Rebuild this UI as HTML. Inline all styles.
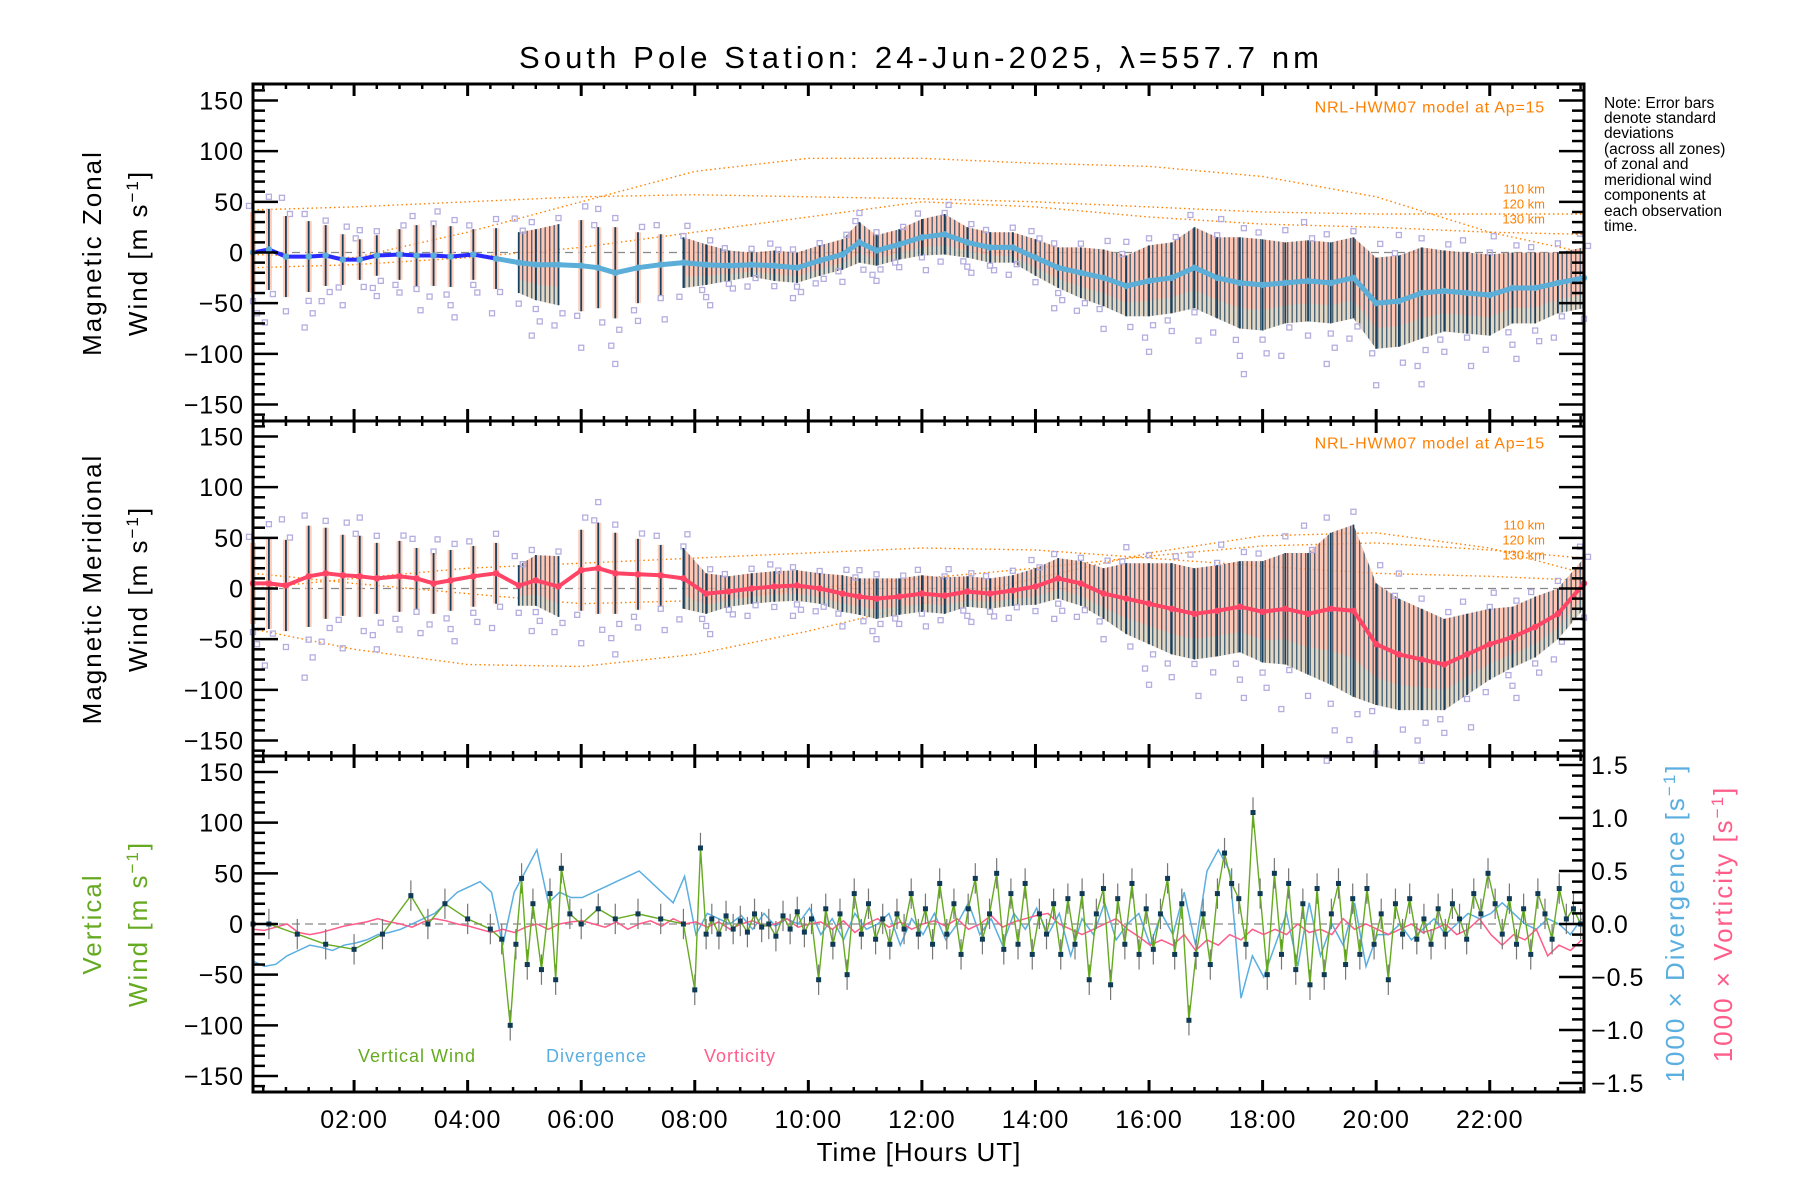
<!DOCTYPE html>
<html><head><meta charset="utf-8"><style>
html,body{margin:0;padding:0;background:#fff;}
svg{display:block;font-family:"Liberation Sans",sans-serif;}
</style></head><body>
<svg id="chart" width="1800" height="1200" viewBox="0 0 1800 1200" xmlns="http://www.w3.org/2000/svg">
<defs>
<pattern id="hatch" width="4.5" height="10" patternUnits="userSpaceOnUse"><rect x="0" y="0" width="1.4" height="10" fill="#17405f"/></pattern>
</defs>
<text x="919" y="68" font-size="31" text-anchor="middle" textLength="800" lengthAdjust="spacing">South Pole Station: 24-Jun-2025, λ=557.7 nm</text>
<g id="note" font-size="15.5">
<text x="1604" y="108">Note: Error bars</text><text x="1604" y="123">denote standard</text><text x="1604" y="138">deviations</text><text x="1604" y="154">(across all zones)</text><text x="1604" y="169">of zonal and</text><text x="1604" y="185">meridional wind</text><text x="1604" y="200">components at</text><text x="1604" y="216">each observation</text><text x="1604" y="231">time.</text>
</g>
<g id="layer"></g>
</svg>
<script>
// ---- data ----
const times = [0.22,0.5,0.8,1.2,1.5,1.8,2.1,2.4,2.8,3.1,3.4,3.7,4.1,4.5,4.9,5.2,5.6,6.0,6.3,6.6,7.0,7.4,7.8,8.2,8.6,9.0,9.4,9.8,10.2,10.6,10.9,11.2,11.6,12.0,12.4,12.8,13.2,13.6,14.0,14.4,14.8,15.2,15.6,16.0,16.4,16.8,17.2,17.6,18.0,18.4,18.8,19.2,19.6,20.0,20.4,20.8,21.2,21.6,22.0,22.4,22.8,23.2,23.66];
const zonalWind = [0,3,-4,-4,-3,-7,-7,-3,-2,-3,-3,-4,-2,-6,-10,-12,-12,-13,-15,-20,-15,-12,-10,-12,-13,-12,-13,-15,-8,-2,10,2,8,15,18,10,5,5,-5,-15,-20,-25,-33,-28,-25,-15,-25,-30,-32,-30,-28,-30,-25,-50,-48,-40,-38,-40,-42,-35,-35,-30,-25];
const zonalStd = [40,40,40,35,30,25,20,20,25,30,30,30,25,30,30,35,40,45,40,45,35,30,25,20,15,12,15,15,15,15,20,15,15,18,20,15,15,15,18,20,25,28,30,35,35,40,40,45,45,40,40,40,40,45,45,45,40,40,40,35,35,30,30];
const meridWind = [5,5,3,12,15,13,12,10,12,10,5,8,12,15,3,8,2,18,20,15,14,13,10,-5,-3,0,2,3,0,-5,-8,-10,-8,-5,-7,-3,-5,-2,2,10,5,-5,-10,-15,-20,-25,-22,-18,-23,-20,-25,-20,-22,-55,-65,-70,-75,-65,-55,-48,-38,-25,5];
const meridStd = [40,45,45,50,45,40,40,35,35,30,30,30,30,30,20,25,30,40,45,40,35,30,30,20,15,15,15,15,15,18,18,20,18,18,18,15,15,15,18,20,22,25,35,40,45,45,45,45,50,55,60,75,85,60,55,50,45,40,35,30,30,25,25];
const modelTimes = [0.22,2,4,6,8,10,12,14,16,18,20,22,23.66];
const zonal110 = [42,45,50,55,57,55,53,50,45,40,38,38,38];
const zonal120 = [-2,-5,20,50,80,93,93,88,85,75,55,20,0];
const zonal130 = [-15,-12,-5,5,20,35,50,45,35,28,25,20,18];
const merid110 = [-40,-60,-75,-77,-65,-42,-15,10,35,52,55,40,15];
const merid120 = [15,5,-5,-15,-12,0,10,20,32,42,45,38,30];
const merid130 = [0,10,20,25,30,35,40,38,30,22,15,12,8];
const vertTimesEarly = [0.22,0.5,1.0,1.5,2.0,2.5,3.0,3.3,3.6,4.0,4.4,4.6,4.75,4.85,4.95,5.05,5.15,5.3,5.45,5.55,5.65,5.8,6.0,6.3,6.6,7.0,7.4,7.8,8.0,8.1,8.2];
const vertWindEarly = [0,0,-10,-20,-25,-10,28,0,20,5,-5,-15,-100,-20,45,-40,20,-45,30,-55,55,10,0,15,5,10,5,0,-65,75,-10];
const vertDenseStart = 8.3, vertDenseEnd = 23.6;
const vertWindDense = [5,-10,8,-5,3,-8,10,-3, 0,-12,8,-5,12,-8,5,-55, 15,-20,10,-50,30,-10,20,-15, 5,-20,10,-5,30,-10,15,-20, 40,-10,20,-30,15,45,-15,10, 50,-25,30,-20,40,-30,10,-10, 20,-30,25,-20,30,-55,10,35, -60,25,-20,40,-30,15,-25,10, 45,-30,20,-95,-30,10,-40,30, 70,40,25,-20,110,30,-50,50, -30,40,-45,20,-60,35,-50,10, 40,-40,25,-30,35,-20,10,-55, 20,-10,25,-15,5,-20,15,-10, 20,5,-15,30,10,50,20,-10, 25,-20,15,-30,30,10,-15,35, 5,15,0];
const vertErr = 15;
const gridStart = 0.22, gridStep = 0.2;
const divergence = [-0.35,-0.4,-0.38,-0.3,-0.25,-0.2,-0.22,-0.25,-0.2,-0.18, -0.15,-0.1,-0.08,-0.05,0.0,0.05,0.1,0.2,0.3,0.35, 0.4,0.3,-0.2,0.3,0.5,0.7,0.2,0.3,0.25,0.25, 0.3,0.35,0.4,0.45,0.5,0.4,0.3,0.2,0.45,-0.1, 0.1,0.05,0.0,0.08,-0.05,0.1,-0.02,0.05,0.0,0.15, -0.1,0.05,-0.15,0.1,-0.05,0.0,0.1,-0.2,0.05,-0.1, 0.1,-0.15,0.0,0.2,-0.1,0.05,-0.2,0.1,-0.05,0.15, -0.1,0.1,-0.3,0.05,-0.1,0.2,-0.15,0.0,0.1,-0.2, 0.1,-0.1,0.3,-0.2,0.5,0.7,0.5,-0.7,-0.3,-0.5, -0.2,0.1,-0.4,0.2,-0.3,0.0,-0.2,0.2,-0.4,-0.1, -0.1,0.0,-0.15,-0.05,0.05,-0.1,0.0,0.1,0.05,0.1, 0.2,0.1,0.0,-0.05,0.05,0.0,-0.1,0.05];
const vorticity = [-0.05,-0.06,-0.03,0.0,-0.08,-0.1,-0.08,-0.05,-0.02,0.0, 0.02,0.05,0.02,0.0,-0.03,0.02,0.05,0.03,0.0,-0.02, -0.05,-0.08,-0.05,-0.08,-0.03,0.0,-0.05,0.0,0.02,0.03, 0.0,-0.03,0.02,-0.05,0.0,0.03,-0.02,0.05,0.0,0.02, -0.03,0.02,-0.05,0.0,0.03,-0.02,0.0,0.05,-0.03,0.0, 0.02,-0.05,0.03,-0.08,0.0,0.05,-0.03,0.02,-0.05,0.0, 0.03,-0.02,0.05,-0.05,0.0,0.08,-0.03,0.02,0.05,0.08, 0.1,0.0,-0.05,-0.1,-0.05,0.0,0.05,-0.05,-0.12,-0.2, -0.15,-0.2,-0.1,-0.25,-0.15,-0.2,-0.1,-0.15,-0.05,-0.1, -0.05,-0.1,0.0,-0.08,-0.05,-0.1,0.05,-0.05,0.0,-0.05, -0.1,-0.05,0.0,-0.08,-0.05,0.0,-0.1,-0.05,0.05,-0.1, -0.2,-0.1,-0.15,-0.05,-0.3,-0.2,-0.25,-0.15];
const yTickLabels = ['150','100','50','0','\u221250','\u2212100','\u2212150'];
const yTickValues = [150,100,50,0,-50,-100,-150];
const rTickLabels = ['1.5','1.0','0.5','0.0','\u22120.5','\u22121.0','\u22121.5'];
const rTickValues = [1.5,1.0,0.5,0.0,-0.5,-1.0,-1.5];
const xTickLabels = ['02:00','04:00','06:00','08:00','10:00','12:00','14:00','16:00','18:00','20:00','22:00'];
const xTickValues = [2,4,6,8,10,12,14,16,18,20,22];

// ---- layout ----
const NS='http://www.w3.org/2000/svg';
const L=253, R=1584, XMIN=0.22, XMAX=23.66;
const panels=[{top:84,bot:421},{top:421,bot:756},{top:756,bot:1092}];
const X=h=>L+(h-XMIN)/(XMAX-XMIN)*(R-L);
function Y(p,v){const c=(panels[p].top+panels[p].bot)/2;return c-v*1.0133;}
function YR(v){return 924-v*106;}
const layer=document.getElementById('layer');
function mk(tag,attrs,parent){const e=document.createElementNS(NS,tag);for(const k in attrs)e.setAttribute(k,attrs[k]);(parent||layer).appendChild(e);return e;}
function grp(name){const g=mk('g',{});


return g;}
function poly(pts,attrs,parent){return mk('polyline',Object.assign({points:pts.map(p=>p[0].toFixed(1)+','+p[1].toFixed(1)).join(' '),fill:'none'},attrs),parent);}

const dense=h=>(h>=4.7&&h<=5.85)||h>=7.8;
const scatterK=[[1.15,-1.2,-1.5],[1.3,-1.1,-1.8],[1.05,1.45,-1.35],[1.2,-1.25,-1.6,-2.0]];

function windPanel(p,T,M,S,name,lineColor,line2Color,models,modelLabels){
  const g=grp(name+'-panel');
  const z=mk('line',{x1:L,x2:R,y1:Y(p,0),y2:Y(p,0),stroke:'#888','stroke-dasharray':'8 5','stroke-width':1.3},g);
  
  
  models.forEach((arr,i)=>{
    const c=poly(modelTimes.map((t,j)=>[X(t),Y(p,arr[j])]),{stroke:'#ff8000','stroke-width':1.4,'stroke-dasharray':'1.5 3'},g);
    
    
  });
  const segs=[];let cur=[];
  T.forEach((t,i)=>{if(dense(t))cur.push(i);else{if(cur.length)segs.push(cur);cur=[];}});
  if(cur.length)segs.push(cur);
  segs.forEach(s=>{
    const top=s.map(i=>[X(T[i]),Y(p,M[i]+S[i])]);
    const bot=s.map(i=>[X(T[i]),Y(p,M[i]-S[i])]).reverse();
    const pts=top.concat(bot).map(q=>q[0].toFixed(1)+','+q[1].toFixed(1)).join(' ');
    const b1=mk('polygon',{points:pts,fill:'#ffb8a0','fill-opacity':0.8},g);
    
    
    const lowBand=s.map(i=>[X(T[i]),Y(p,M[i]-S[i]*0.55)]).concat(bot).map(q=>q[0].toFixed(1)+','+q[1].toFixed(1)).join(' ');
    const b3=mk('polygon',{points:lowBand,fill:'#c8e8d8','fill-opacity':0.5},g);
    
    
    const b2=mk('polygon',{points:pts,fill:'url(#hatch)','fill-opacity':0.75},g);
    
    
  });
  T.forEach((t,i)=>{
    const x=X(t);
    scatterK[i%4].forEach((k,j)=>{
      const sq=mk('rect',{x:x-2.5+((i+j)%3-1)*4,y:Y(p,M[i]+S[i]*k)-2.5,width:5,height:5,fill:'none',stroke:'#b4aee0','stroke-width':1.3},g);
      
      
    });
    if(!dense(t)){
      const bg=mk('rect',{x:x-3,y:Y(p,M[i]+S[i]),width:6,height:2*S[i]*1.0133,fill:'#ffc0a8','fill-opacity':0.8},g);
      
      
    }
    const eb=mk('line',{x1:x,x2:x,y1:Y(p,M[i]+S[i]),y2:Y(p,M[i]-S[i]),stroke:'#17405f','stroke-width':1.8},g);
    
    
  });
  const l1=poly(T.map((t,i)=>[X(t),Y(p,M[i])]),{stroke:lineColor,'stroke-width':4,'stroke-linejoin':'round'},g);
  
  
  if(line2Color){
    const idx=T.map((t,i)=>i).filter(i=>T[i]>=4.5);
    const l2=poly(idx.map(i=>[X(T[i]),Y(p,M[i])]),{stroke:line2Color,'stroke-width':5,'stroke-linejoin':'round'},g);
    
    
  }
  T.forEach((t,i)=>{const d=mk('circle',{cx:X(t),cy:Y(p,M[i]),r:3.2,fill:line2Color||lineColor},g);
    
    });
  const mt=mk('text',{x:1545,y:Y(p,0)-140,'font-size':16,fill:'#ff8000','text-anchor':'end','letter-spacing':'0.8'},g);
  mt.textContent='NRL-HWM07 model at Ap=15';
  
  
  modelLabels.forEach((lb,i)=>{const t=mk('text',{x:1545,y:Y(p,0)-59+i*15,'font-size':13,fill:'#ff8000','text-anchor':'end'},g);t.textContent=lb;
    
    });
}
windPanel(0,times,zonalWind,zonalStd,'zonal','#2a2aff','#5aaed8',[zonal110,zonal120,zonal130],['110 km','120 km','130 km']);
windPanel(1,times,meridWind,meridStd,'meridional','#ff4466',null,[merid110,merid120,merid130],['110 km','120 km','130 km']);

// ---- panel 3 ----
(function(){
  const g=grp('vertical-panel');
  const z=mk('line',{x1:L,x2:R,y1:Y(2,0),y2:Y(2,0),stroke:'#888','stroke-dasharray':'8 5','stroke-width':1.3},g);
  
  
  const gx=divergence.map((v,i)=>gridStart+i*gridStep);
  const dv=poly(gx.map((t,i)=>[X(t),YR(divergence[i])]),{stroke:'#5aaee0','stroke-width':1.5},g);
  
  
  const vo=poly(gx.map((t,i)=>[X(t),YR(vorticity[i])]),{stroke:'#ff5c8a','stroke-width':1.5},g);
  
  
  const step=(vertDenseEnd-vertDenseStart)/(vertWindDense.length-1);
  const VT=vertTimesEarly.concat(vertWindDense.map((v,i)=>vertDenseStart+i*step));
  const VW=vertWindEarly.concat(vertWindDense);
  VT.forEach((t,i)=>{const e=mk('line',{x1:X(t),x2:X(t),y1:Y(2,VW[i]+vertErr),y2:Y(2,VW[i]-vertErr),stroke:'#777','stroke-width':1.2},g);
    
    });
  const vl=poly(VT.map((t,i)=>[X(t),Y(2,VW[i])]),{stroke:'#66aa22','stroke-width':1.4},g);
  
  
  VT.forEach((t,i)=>{const d=mk('rect',{x:X(t)-2.5,y:Y(2,VW[i])-2.5,width:5,height:5,fill:'#0e3a55'},g);
    
    });
  [['Vertical Wind',358,'#66aa22'],['Divergence',546,'#5aaee0'],['Vorticity',704,'#ff5c8a']].forEach(a=>{
    const t=mk('text',{x:a[1],y:1062,'font-size':18,fill:a[2],'letter-spacing':'1'},g);t.textContent=a[0];
    
    });
})();

// ---- axes ----
panels.forEach((pn,p)=>{
  const g=grp('axes-panel-'+(p+1));
  const fr=mk('rect',{x:L,y:pn.top,width:R-L,height:pn.bot-pn.top,fill:'none',stroke:'#000','stroke-width':3},g);
  
  
  for(let v=-160;v<=160;v+=10){
    const y=Y(p,v);const maj=v%50===0;const len=maj?25:12;
    mk('line',{x1:L,x2:L+len,y1:y,y2:y,stroke:'#000','stroke-width':2.5},g);
    if(p<2)mk('line',{x1:R,x2:R-len,y1:y,y2:y,stroke:'#000','stroke-width':2.5},g);
  }
  yTickValues.forEach((v,i)=>{const t=mk('text',{x:244,y:Y(p,v)+9,'font-size':25,'text-anchor':'end','letter-spacing':'1'},g);t.textContent=yTickLabels[i];
    
    });
  for(let h=0.4;h<24;h+=0.4){const x=X(h);if(x<L+2||x>R-2)continue;
    const maj=Math.abs(h/2-Math.round(h/2))<0.01;const len=maj?12:5;
    mk('line',{x1:x,x2:x,y1:pn.bot,y2:pn.bot-len,stroke:'#000','stroke-width':maj?3:2.5},g);
    mk('line',{x1:x,x2:x,y1:pn.top,y2:pn.top+len,stroke:'#000','stroke-width':maj?3:2.5},g);}
});
(function(){
  const g=grp('right-axis');
  for(let k=-15;k<=15;k++){const v=k/10;const y=YR(v);const maj=k%5===0;const len=maj?25:12;
    mk('line',{x1:R,x2:R-len,y1:y,y2:y,stroke:'#000','stroke-width':2.5},g);}
  rTickValues.forEach((v,i)=>{const t=mk('text',{x:1591,y:YR(v)+9,'font-size':25,'letter-spacing':'1'},g);t.textContent=rTickLabels[i];
    
    });
  const gx=grp('x-axis');
  xTickValues.forEach((v,i)=>{const t=mk('text',{x:X(v),y:1128,'font-size':25,'text-anchor':'middle','letter-spacing':'1'},gx);t.textContent=xTickLabels[i];
    
    });
  const xt=mk('text',{x:919,y:1161,'font-size':26,'text-anchor':'middle','letter-spacing':'1'},gx);xt.textContent='Time [Hours UT]';
  
  
})();
function vtitle(x,y,parts,name){
  const t=mk('text',{x:0,y:0,'font-size':26,'text-anchor':'middle','letter-spacing':'2',transform:`translate(${x},${y}) rotate(-90)`});
  
  
  parts.forEach(p=>{const s=mk('tspan',{fill:p[1]},t);if(p[2])s.setAttribute('baseline-shift','super'),s.setAttribute('font-size','17');s.textContent=p[0];});
}
vtitle(101,253,[['Magnetic Zonal','#000']],'zonal-y-title-1');
vtitle(147,253,[['Wind [m s','#000'],['\u22121','#000',1],[']','#000']],'zonal-y-title-2');
vtitle(101,589,[['Magnetic Meridional','#000']],'meridional-y-title-1');
vtitle(147,589,[['Wind [m s','#000'],['\u22121','#000',1],[']','#000']],'meridional-y-title-2');
vtitle(101,924,[['Vertical','#66aa22']],'vertical-y-title-1');
vtitle(147,924,[['Wind [m s','#66aa22'],['\u22121','#66aa22',1],[']','#66aa22']],'vertical-y-title-2');
vtitle(1684,923,[['1000 \u00d7 Divergence [s','#5aaee0'],['\u22121','#5aaee0',1],[']','#5aaee0']],'divergence-axis-title');
vtitle(1732,924,[['1000 \u00d7 Vorticity [s','#ff5c8a'],['\u22121','#ff5c8a',1],[']','#ff5c8a']],'vorticity-axis-title');
</script>
</body></html>
